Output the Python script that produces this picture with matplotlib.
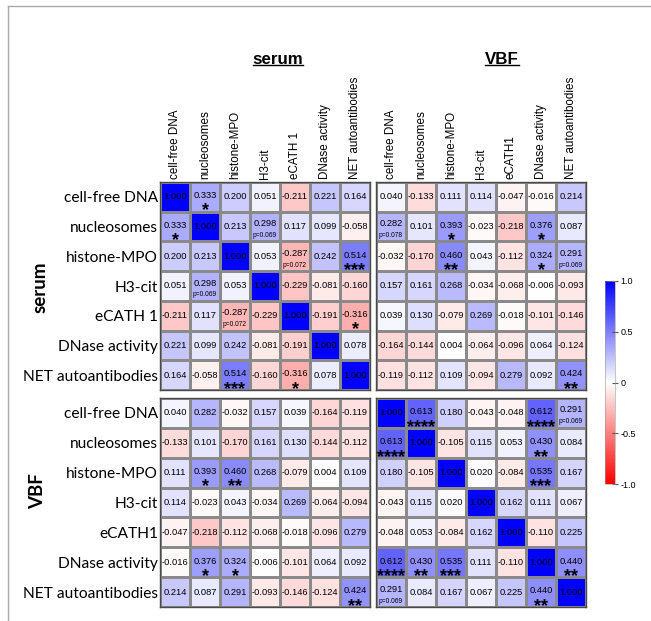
import numpy as np
import matplotlib.pyplot as plt
from matplotlib.lines import Line2D

W, H = 651, 621

serum_labels = ['cell-free DNA', 'nucleosomes', 'histone-MPO', 'H3-cit',
                'eCATH 1', 'DNase activity', 'NET autoantibodies']
vbf_labels = ['cell-free DNA', 'nucleosomes', 'histone-MPO', 'H3-cit',
              'eCATH1', 'DNase activity', 'NET autoantibodies']

# spearman r, serum vs serum
serum_serum = [
    [1.000, 0.333, 0.200, 0.051, -0.211, 0.221, 0.164],
    [0.333, 1.000, 0.213, 0.298, 0.117, 0.099, -0.058],
    [0.200, 0.213, 1.000, 0.053, -0.287, 0.242, 0.514],
    [0.051, 0.298, 0.053, 1.000, -0.229, -0.081, -0.160],
    [-0.211, 0.117, -0.287, -0.229, 1.000, -0.191, -0.316],
    [0.221, 0.099, 0.242, -0.081, -0.191, 1.000, 0.078],
    [0.164, -0.058, 0.514, -0.160, -0.316, 0.078, 1.000],
]
# rows serum, cols VBF
serum_vbf = [
    [0.040, -0.133, 0.111, 0.114, -0.047, -0.016, 0.214],
    [0.282, 0.101, 0.393, -0.023, -0.218, 0.376, 0.087],
    [-0.032, -0.170, 0.460, 0.043, -0.112, 0.324, 0.291],
    [0.157, 0.161, 0.268, -0.034, -0.068, -0.006, -0.093],
    [0.039, 0.130, -0.079, 0.269, -0.018, -0.101, -0.146],
    [-0.164, -0.144, 0.004, -0.064, -0.096, 0.064, -0.124],
    [-0.119, -0.112, 0.109, -0.094, 0.279, 0.092, 0.424],
]
# VBF vs VBF
vbf_vbf = [
    [1.000, 0.613, 0.180, -0.043, -0.048, 0.612, 0.291],
    [0.613, 1.000, -0.105, 0.115, 0.053, 0.430, 0.084],
    [0.180, -0.105, 1.000, 0.020, -0.084, 0.535, 0.167],
    [-0.043, 0.115, 0.020, 1.000, 0.162, 0.111, 0.067],
    [-0.048, 0.053, -0.084, 0.162, 1.000, -0.110, 0.225],
    [0.612, 0.430, 0.535, 0.111, -0.110, 1.000, 0.440],
    [0.291, 0.084, 0.167, 0.067, 0.225, 0.440, 1.000],
]

# significance stars and trend p-values, keyed by (row, col)
serum_serum_sig = {(0, 1): '*', (1, 0): '*', (2, 6): '***', (6, 2): '***',
                   (4, 6): '*', (6, 4): '*'}
serum_serum_p = {(1, 3): 'p=0.069', (3, 1): 'p=0.069',
                 (2, 4): 'p=0.072', (4, 2): 'p=0.072'}
serum_vbf_sig = {(1, 2): '*', (1, 5): '*', (2, 2): '**', (2, 5): '*', (6, 6): '**'}
serum_vbf_p = {(1, 0): 'p=0.078', (2, 6): 'p=0.069'}
vbf_serum_sig = {(2, 1): '*', (5, 1): '*', (2, 2): '**', (5, 2): '*', (6, 6): '**'}
vbf_serum_p = {}
vbf_vbf_sig = {(0, 1): '****', (1, 0): '****', (0, 5): '****', (5, 0): '****',
               (1, 5): '**', (5, 1): '**', (2, 5): '***', (5, 2): '***',
               (5, 6): '**', (6, 5): '**'}
vbf_vbf_p = {(0, 6): 'p=0.069', (6, 0): 'p=0.069'}

fig = plt.figure(figsize=(W / 100, H / 100), dpi=100)


def px_rect(x0, y0, x1, y1):
    return [x0 / W, 1 - y1 / H, (x1 - x0) / W, (y1 - y0) / H]


def draw_block(rect, vals, sig, pv, rows=None, cols=None):
    ax = fig.add_axes(rect)
    vals = np.array(vals)
    ax.pcolormesh(vals, cmap='bwr_r', vmin=-1, vmax=1,
                  edgecolors='#8a8a8a', linewidth=0.8)
    ax.set_xlim(0, 7)
    ax.set_ylim(7, 0)
    for i in range(7):
        for j in range(7):
            dy = 0.0
            if (i, j) in sig:
                dy = -0.04
            if (i, j) in pv:
                dy = -0.1
            ax.text(j + 0.5, i + 0.5 + dy, f'{vals[i, j]:.3f}', ha='center', va='center',
                    fontsize=6.7, family='Liberation Sans')
            if (i, j) in sig:
                ax.text(j + 0.5, i + 1.13, sig[(i, j)], ha='center', va='baseline',
                        fontsize=13, fontweight='bold', family='Liberation Sans',
                        clip_on=False)
            if (i, j) in pv:
                ax.text(j + 0.5, i + 0.80, pv[(i, j)], ha='center', va='center',
                        fontsize=4.8, family='Liberation Sans')
    for s in ax.spines.values():
        s.set_color('#4a4a4a')
        s.set_linewidth(1.0)
    ax.set_xticks([])
    ax.set_yticks([])
    if rows is not None:
        ax.set_yticks(np.arange(7) + 0.5)
        ax.set_yticklabels(rows, fontsize=11.2, family='Lato')
        ax.tick_params(axis='y', length=0, pad=1.5)
    if cols is not None:
        ax.xaxis.tick_top()
        ax.set_xticks(np.arange(7) + 0.5)
        ax.set_xticklabels(cols, rotation=90, fontsize=8.4, family='Liberation Sans')
        ax.tick_params(axis='x', length=0, pad=2.2)
    return ax


draw_block(px_rect(160, 182, 370, 390), serum_serum, serum_serum_sig, serum_serum_p,
           rows=serum_labels, cols=serum_labels)
draw_block(px_rect(376, 182, 586, 390), serum_vbf, serum_vbf_sig, serum_vbf_p,
           cols=vbf_labels)
draw_block(px_rect(160, 398, 370, 607), np.array(serum_vbf).T, vbf_serum_sig, vbf_serum_p,
           rows=vbf_labels)
draw_block(px_rect(376, 398, 586, 607), vbf_vbf, vbf_vbf_sig, vbf_vbf_p)

# colorbar
cax = fig.add_axes(px_rect(605, 281, 615, 484))
sm = plt.cm.ScalarMappable(cmap='bwr_r', norm=plt.Normalize(-1, 1))
cb = fig.colorbar(sm, cax=cax, ticks=[1.0, 0.5, 0, -0.5, -1.0])
cb.ax.set_yticklabels(['1.0', '0.5', '0', '-0.5', '-1.0'], fontsize=6.5,
                      family='Liberation Sans')
cb.ax.tick_params(direction='inout', length=4, width=0.8, color='#555555', pad=2)
cb.outline.set_linewidth(0.4)
cb.outline.set_edgecolor('#999999')

# block titles, underlined
renderer = fig.canvas.get_renderer()
for label, x, y in [('serum', 278, 59), ('VBF', 502, 59)]:
    t = fig.text(x / W, 1 - y / H, label, ha='center', va='center', fontsize=12.2,
                 fontweight='bold', family='Liberation Sans')
    bb = t.get_window_extent(renderer)
    fig.add_artist(Line2D([bb.x0 / W, bb.x1 / W], [(bb.y0 + 1.5) / H] * 2,
                          transform=fig.transFigure, color='black', lw=1.0))

fig.text(40 / W, 1 - 287 / H, 'serum', rotation=90, ha='center', va='center',
         fontsize=13.5, fontweight='bold', family='Lato')
fig.text(38 / W, 1 - 491 / H, 'VBF', rotation=90, ha='center', va='center',
         fontsize=13.5, fontweight='bold', family='Lato')

# frame lines
fig.add_artist(Line2D([8 / W, 1], [1 - 6 / H] * 2, transform=fig.transFigure,
                      color='#a8a8a8', lw=1.0))
fig.add_artist(Line2D([8 / W] * 2, [0, 1 - 6 / H], transform=fig.transFigure,
                      color='#a8a8a8', lw=1.0))

fig.savefig('out.png', dpi=100)
